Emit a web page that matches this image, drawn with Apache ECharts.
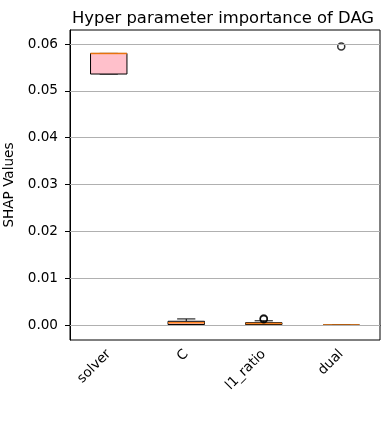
<!DOCTYPE html>
<html><head><meta charset="utf-8">
<script src="https://cdn.jsdelivr.net/npm/echarts@6/dist/echarts.min.js"></script>
<style>html,body{margin:0;padding:0;background:#fff}#c{width:390px;height:439px}</style>
</head><body><div id="c"></div>
<script>
const categories = ['solver', 'C', 'l1_ratio', 'dual'];
// [min, Q1, median, Q3, max]
const boxStats = [
  [0.0536, 0.0536, 0.0580, 0.0580, 0.0580],
  [0.0000, 0.0001, 0.0005, 0.0008, 0.0013],
  [0.0000, 0.0001, 0.0003, 0.0005, 0.0009],
  [0.0000, 0.0000, 0.0000, 0.0000, 0.0000]
];
// outliers: [category index, value]
const outliers = [[2, 0.00140], [2, 0.00125], [3, 0.0595]];
const yTicks = [0, 0.01, 0.02, 0.03, 0.04, 0.05, 0.06];

const FONT = 'DejaVu Sans';
const chart = echarts.init(document.getElementById('c'), null, {renderer: 'canvas'});

const boxData = boxStats.map((s, i) => [i].concat(s));

chart.setOption({
  animation: false,
  title: {
    text: 'Hyper parameter importance of DAG',
    left: 218, top: 6, textAlign: 'center',
    textStyle: {fontFamily: FONT, fontSize: 16.4, fontWeight: 'normal', color: '#000'}
  },
  grid: {left: 70, right: 10, top: 30, bottom: 99, outerBoundsMode: 'none', containLabel: false,
    show: true, borderColor: '#000', borderWidth: 1, backgroundColor: 'transparent'},
  xAxis: {
    type: 'category', data: categories, boundaryGap: true,
    axisLine: {lineStyle: {color: '#000', width: 1}},
    axisTick: {alignWithLabel: true, length: 5, lineStyle: {color: '#000'}},
    axisLabel: {rotate: 45, fontFamily: FONT, fontSize: 13.6, color: '#000', margin: 12},
    splitLine: {show: false}
  },
  yAxis: {
    type: 'value', min: -0.0032, max: 0.063,
    name: 'SHAP Values', nameLocation: 'middle', nameGap: 48,
    nameTextStyle: {fontFamily: FONT, fontSize: 13.6, color: '#000'},
    axisLine: {show: true, lineStyle: {color: '#000', width: 1}},
    axisTick: {show: true, length: 5, lineStyle: {color: '#000'}, customValues: yTicks},
    axisLabel: {fontFamily: FONT, fontSize: 13.6, color: '#000', margin: 12, customValues: yTicks,
      formatter: v => v.toFixed(2)},
    splitLine: {show: false}
  },
  series: [
    {
      type: 'line', data: [], z: 1, silent: true,
      markLine: {
        silent: true, symbol: 'none', animation: false, label: {show: false},
        lineStyle: {color: '#b0b0b0', width: 1, type: 'solid'},
        data: yTicks.map(v => ({yAxis: v}))
      }
    },
    {
      type: 'custom', z: 3,
      data: boxData,
      encode: {x: 0, y: [1, 2, 3, 4, 5]},
      renderItem: function (params, api) {
        const i = api.value(0);
        const pMin = api.coord([i, api.value(1)]);
        const pQ1 = api.coord([i, api.value(2)]);
        const pMed = api.coord([i, api.value(3)]);
        const pQ3 = api.coord([i, api.value(4)]);
        const pMax = api.coord([i, api.value(5)]);
        const band = api.size([1, 0])[0];
        const bw = band * 0.47, cw = bw * 0.5;
        const x = pQ1[0];
        const blk = {stroke: '#000', lineWidth: 1};
        return {
          type: 'group',
          children: [
            {type: 'line', shape: {x1: x, y1: pMin[1], x2: x, y2: pQ1[1]}, style: blk},
            {type: 'line', shape: {x1: x, y1: pQ3[1], x2: x, y2: pMax[1]}, style: blk},
            {type: 'line', shape: {x1: x - cw / 2, y1: pMin[1], x2: x + cw / 2, y2: pMin[1]}, style: blk},
            {type: 'line', shape: {x1: x - cw / 2, y1: pMax[1], x2: x + cw / 2, y2: pMax[1]}, style: blk},
            {type: 'rect', shape: {x: x - bw / 2, y: pQ3[1], width: bw, height: pQ1[1] - pQ3[1]},
              style: {fill: '#ffc0cb', stroke: '#000', lineWidth: 1}},
            {type: 'line', shape: {x1: x - bw / 2, y1: pMed[1], x2: x + bw / 2, y2: pMed[1]},
              style: {stroke: '#ff7f0e', lineWidth: 1.5, opacity: 0.9}}
          ]
        };
      }
    },
    {
      type: 'scatter', z: 4, data: outliers,
      symbol: 'circle', symbolSize: 7,
      itemStyle: {color: 'rgba(0,0,0,0)', borderColor: '#000', borderWidth: 1.5}
    }
  ]
});
</script></body></html>
